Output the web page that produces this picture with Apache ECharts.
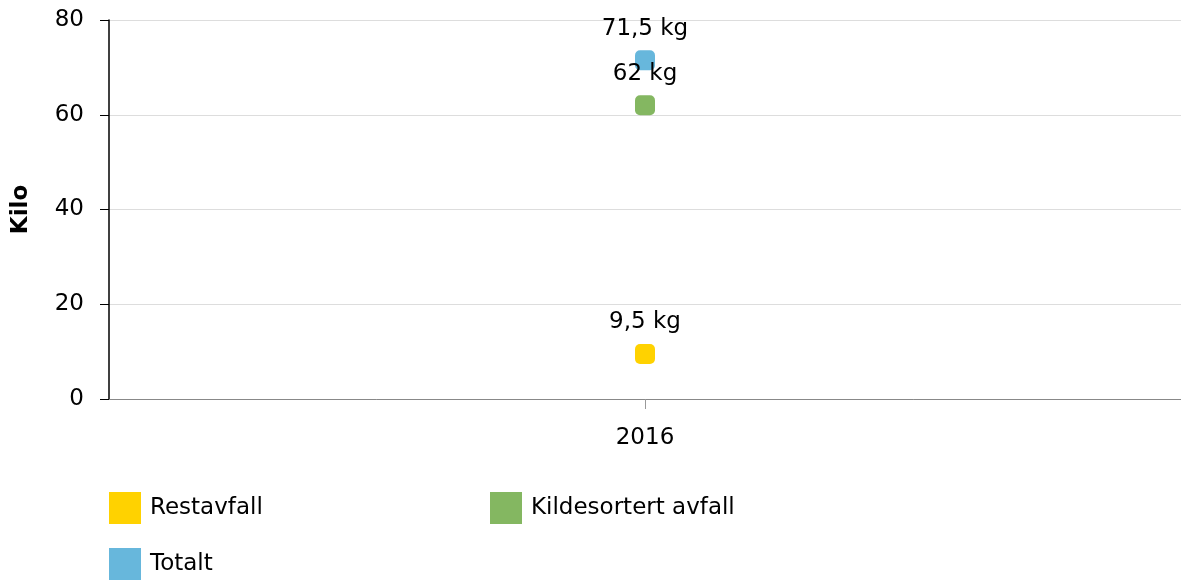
<!DOCTYPE html>
<html><head><meta charset="utf-8">
<script src="https://cdn.jsdelivr.net/npm/echarts@6/dist/echarts.min.js"></script>
<style>html,body{margin:0;padding:0;background:#fff}#c{width:1181px;height:582px}</style>
</head><body><div id="c"></div>
<script>
const categories = ['2016'];
const seriesNames = ['Restavfall', 'Kildesortert avfall', 'Totalt'];
const restavfall = [9.5];
const kildesortert = [62];
const totalt = [71.5];
const yTicks = [0, 20, 40, 60, 80];
const colors = ['#FFD200', '#84B761', '#67B7DC'];
const font = 'DejaVu Sans, Verdana, sans-serif';
const fs = 23;

function fmt(v){ return String(v).replace('.', ',') + ' kg'; }
function mk(name, data, color){
  return {
    name: name, type: 'scatter', data: data,
    symbol: 'roundRect', symbolSize: 20,
    itemStyle: { color: color, opacity: 1 },
    label: { show: true, position: 'top', distance: 10, color: '#000',
      fontFamily: font, fontSize: fs,
      formatter: p => fmt(p.value) }
  };
}
function lg(name, left, top){
  return {
    data: [name], left: left, top: top, padding: 0,
    orient: 'horizontal', itemWidth: 32, itemHeight: 32,
    icon: 'rect',
    textStyle: { color: '#000', fontFamily: font, fontSize: fs, padding: [0,0,0,4] }
  };
}
const chart = echarts.init(document.getElementById('c'));
chart.setOption({
  animation: false,
  grid: { left: 109, top: 20, right: 0, bottom: 183 },
  xAxis: {
    type: 'category', data: categories, boundaryGap: true,
    axisLine: { lineStyle: { color: '#888', width: 1 } },
    axisTick: { show: true, alignWithLabel: true, length: 10, lineStyle: { color: '#999' } },
    axisLabel: { color: '#000', fontFamily: font, fontSize: fs, margin: 28 },
    splitLine: { show: false }
  },
  yAxis: {
    type: 'value', min: yTicks[0], max: yTicks[yTicks.length-1], interval: 20,
    name: 'Kilo', nameLocation: 'middle', nameGap: 76, nameRotate: 90,
    nameTextStyle: { color: '#000', fontFamily: font, fontSize: 23, fontWeight: 'bold' },
    axisLine: { show: true, lineStyle: { color: '#000', width: 1.5 } },
    axisTick: { show: true, length: 9, lineStyle: { color: '#000' } },
    axisLabel: { color: '#000', fontFamily: font, fontSize: fs, margin: 25 },
    splitLine: { show: true, lineStyle: { color: '#ddd' } }
  },
  legend: [
    lg(seriesNames[0], 109, 492),
    lg(seriesNames[1], 490, 492),
    lg(seriesNames[2], 109, 548)
  ],
  series: [
    mk(seriesNames[0], restavfall, colors[0]),
    mk(seriesNames[1], kildesortert, colors[1]),
    mk(seriesNames[2], totalt, colors[2])
  ]
});
</script></body></html>
